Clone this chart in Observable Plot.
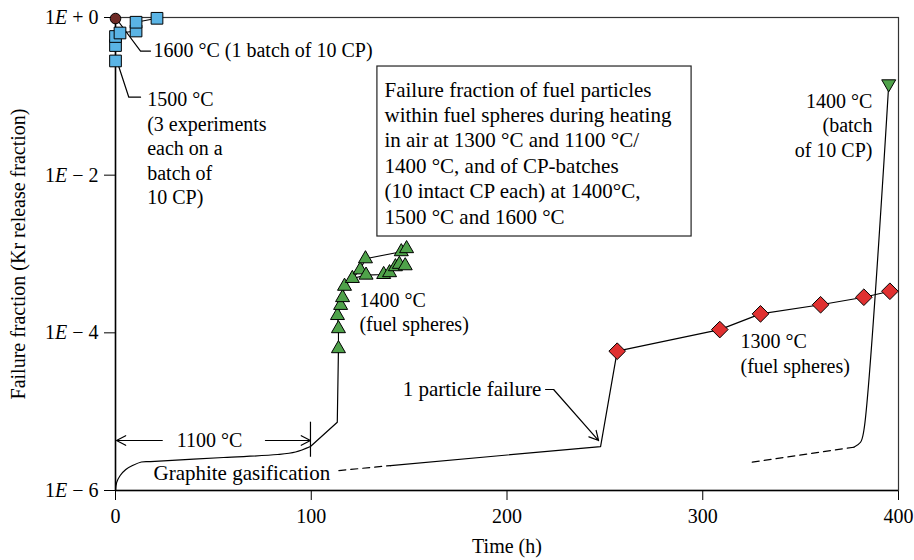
<!DOCTYPE html>
<html><head><meta charset="utf-8">
<script src="https://cdn.jsdelivr.net/npm/d3@7"></script>
<script src="https://cdn.jsdelivr.net/npm/@observablehq/plot@0.6"></script>
<style>body{margin:0;background:#fff}svg{display:block}</style>
</head><body><div id="chart"></div>
<script>
const FONT = "'Liberation Serif', 'Times New Roman', serif";
// ---- ticks
const xTicks = [0, 100, 200, 300, 400];
const yTicks = [1, 1e-2, 1e-4, 1e-6];

// ---- 1600 °C CP batch (circle)
const t1600 = [0];
const v1600 = [0.97];
// ---- 1500 °C CP batches (squares), 3 experiments
const t1500 = [0, 0, 0, 2.3, 10.5, 10.5, 21.2];
const v1500 = [0.281, 0.441, 0.574, 0.636, 0.674, 0.871, 0.977];
const e1500 = ["a", "a", "a", "b", "b", "c", "c"];
// ---- 1400 °C fuel spheres (triangles)
const t1400fs = [113.9, 113.9, 113.4, 115, 116, 117, 121, 125, 127.7, 146, 148.7, 128, 137, 140, 143, 145, 148];
const v1400fs = [6.3e-5, 1.13e-4, 1.66e-4, 2.23e-4, 2.8e-4, 3.9e-4, 4.9e-4, 6.3e-4, 8.7e-4, 1.07e-3, 1.17e-3, 5.4e-4, 5.5e-4, 5.8e-4, 6.9e-4, 7.4e-4, 7.1e-4];
const mainIdx1400 = [0,1,2,3,4,5,6,7,8,9,10];
const sideIdx1400 = [6,11,12,13,14,15,16];
// ---- 1300 °C fuel spheres (diamonds)
const t1300 = [256.3, 308.7, 329.5, 360.2, 382.3, 395.6];
const v1300 = [5.85e-5, 1.10e-4, 1.74e-4, 2.27e-4, 2.83e-4, 3.37e-4];
// ---- 1400 °C CP batch (down triangle)
const t1400cp = [395.0];
const v1400cp = [0.144];

// ---- curves
const t1100 = [0, 0.61, 2.4, 5.26, 8.94, 13.23, 17.88, 55.2, 82.8, 92.0, 99.6];
const v1100 = [1e-6, 1.27e-6, 1.55e-6, 1.85e-6, 2.09e-6, 2.30e-6, 2.33e-6, 2.62e-6, 2.86e-6, 3.08e-6, 3.61e-6];
const tHeat = [99.6, 113.3, 113.9];
const vHeat = [3.61e-6, 7.35e-6, 6.3e-5];
const tGasDash = [114.1, 140.5];
const vGasDash = [1.79e-6, 2.07e-6];
const tGas = [140.5, 247.8, 256.3];
const vGas = [2.07e-6, 3.61e-6, 5.85e-5];
const tCpDash = [325.3, 377.2];
const vCpDash = [2.29e-6, 3.54e-6];
const tCp = [377.2, 380.6, 382.3, 395.0];
const vCp = [3.54e-6, 4.09e-6, 5.77e-6, 0.141];

// ---- annotation leaders (data units)
const lead1600T = [1.5, 12.8, 17.9], lead1600V = [0.89, 0.375, 0.375];
const lead1500T = [1.0, 6.8, 12.8], lead1500V = [0.269, 0.0975, 0.0975];
const leadFailT = [219.7, 223.8], leadFailV = [1.91e-5, 1.91e-5];
const arrows = [
  {x1: 223.8, y1: 1.91e-5, x2: 246.8, y2: 4.3e-6},
  {x1: 23.9, y1: 4.31e-6, x2: 0.5, y2: 4.31e-6},
  {x1: 76.6, y1: 4.31e-6, x2: 99.6, y2: 4.31e-6}
];
const barT = [99.6], barV1 = [7.35e-6], barV2 = [2.64e-6];
const box = [{x1: 133.8, x2: 294.3, y1: 0.2389, y2: 0.001667}];

// ---- label texts
const labels = {
  l1600: "1600 °C (1 batch of 10 CP)",
  l1500: "1500 °C\n(3 experiments\neach on a\nbatch of\n10 CP)",
  l1400fs: "1400 °C\n(fuel spheres)",
  l1300: "1300 °C\n(fuel spheres)",
  l1400cp: "1400 °C\n(batch\nof 10 CP)",
  fail: "1 particle failure",
  l1100: "1100 °C",
  gas: "Graphite gasification",
  box: "Failure fraction of fuel particles\nwithin fuel spheres during heating\nin air at 1300 °C and 1100 °C/\n1400 °C, and of CP-batches\n(10 intact CP each) at 1400°C,\n1500 °C and 1600 °C",
  xTitle: "Time (h)",
  yTitle: "Failure fraction (Kr release fraction)"
};

const pts = (T, V) => T.map((t, i) => ({t, v: V[i]}));
const fmtY = v => { const e = Math.round(Math.log10(v)); return e === 0 ? "1E + 0" : "1E \u2212 " + (-e); };

const fs = pts(t1400fs, v1400fs);
const sq = t1500.map((t, i) => ({t, v: v1500[i], e: e1500[i]}));
const line = (T, V, o = {}) => Plot.line(pts(T, V), {x: "t", y: "v", stroke: "black", strokeWidth: 1.2, ...o});
const txt = (s, t, v, o = {}) => Plot.text([s], {x: () => t, y: () => v, text: d => d, fill: "black", ...o});

const chart = Plot.plot({
  width: 914, height: 560,
  marginLeft: 115, marginRight: 16, marginTop: 17, marginBottom: 70,
  style: {fontFamily: FONT, fontSize: "20px", background: "white", color: "black", overflow: "visible"},
  x: {domain: [0, 400], ticks: xTicks, tickFormat: d => String(d), tickSize: 10, tickPadding: 8, label: null},
  y: {type: "log", domain: [1e-6, 1], ticks: yTicks, tickFormat: fmtY, tickSize: 11, tickPadding: 6, label: null},
  marks: [
    Plot.frame({stroke: "#333", strokeWidth: 1.2}),
    Plot.ruleX([0], {stroke: "black", strokeWidth: 1.5}),
    Plot.ruleY([1e-6], {stroke: "black", strokeWidth: 1.5}),
    line(t1100, v1100, {curve: "catmull-rom"}),
    line(tHeat, vHeat),
    line(tGasDash, vGasDash, {strokeDasharray: "7,5"}),
    line(tGas, vGas),
    line(tCpDash, vCpDash, {strokeDasharray: "7,5"}),
    line(tCp, vCp, {curve: "catmull-rom"}),
    Plot.line(mainIdx1400.map(i => fs[i]), {x: "t", y: "v", stroke: "black", strokeWidth: 1.1}),
    Plot.line(sideIdx1400.map(i => fs[i]), {x: "t", y: "v", stroke: "black", strokeWidth: 1.1}),
    Plot.line(sq, {x: "t", y: "v", z: "e", stroke: "black", strokeWidth: 1.1}),
    line(t1300, v1300),
    line(lead1600T, lead1600V),
    line(lead1500T, lead1500V),
    line(leadFailT, leadFailV),
    Plot.arrow(arrows, {x1: "x1", y1: "y1", x2: "x2", y2: "y2", stroke: "black", strokeWidth: 1.2, headLength: 13, headAngle: 55}),
    Plot.ruleX(barT, {x: d => d, y1: () => barV1[0], y2: () => barV2[0], stroke: "black", strokeWidth: 1.2}),
    Plot.dot(fs, {x: "t", y: "v", symbol: "triangle", r: 5.2, fill: "#4fa24a", stroke: "black", strokeWidth: 1}),
    Plot.dot(sq, {x: "t", y: "v", symbol: "square", r: 6.6, fill: "#5ab4e5", stroke: "black", strokeWidth: 1}),
    Plot.dot(pts(t1600, v1600), {x: "t", y: "v", symbol: "circle", r: 5.3, fill: "#6e2b26", stroke: "black", strokeWidth: 1}),
    Plot.dot(pts(t1300, v1300), {x: "t", y: "v", symbol: "diamond2", r: 7.5, fill: "#e03131", stroke: "black", strokeWidth: 1}),
    Plot.dot(pts(t1400cp, v1400cp), {x: "t", y: "v", symbol: "triangle", rotate: 180, r: 5.2, fill: "#4fa24a", stroke: "black", strokeWidth: 1}),
    Plot.rect(box, {x1: "x1", x2: "x2", y1: "y1", y2: "y2", fill: "white", stroke: "#222", strokeWidth: 1.2}),
    txt(labels.box, 137.4, 0.01967, {textAnchor: "start", lineHeight: 1.21, fontSize: 21}),
    txt(labels.l1600, 19.4, 0.375, {textAnchor: "start"}),
    txt(labels.l1500, 16.2, 0.02244, {textAnchor: "start", lineHeight: 1.225}),
    txt(labels.l1400fs, 124.6, 1.86e-4, {textAnchor: "start", lineHeight: 1.2}),
    txt(labels.l1300, 319.3, 5.55e-5, {textAnchor: "start", lineHeight: 1.25}),
    txt(labels.l1400cp, 386.7, 0.0442, {textAnchor: "end", lineHeight: 1.225}),
    txt(labels.fail, 217.6, 1.91e-5, {textAnchor: "end", fontSize: 21}),
    Plot.text([labels.l1100], {x: () => 48.0, y: () => 4.31e-6, text: d => d, fill: "black", stroke: "white", strokeWidth: 8}),
    txt(labels.gas, 19.4, 1.64e-6, {textAnchor: "start", fontSize: 21}),
    Plot.text([labels.xTitle], {frameAnchor: "bottom", textAnchor: "middle", dy: 62, text: d => d, fill: "black"}),
    Plot.text([labels.yTitle], {frameAnchor: "left", textAnchor: "middle", dx: -97, rotate: -90, text: d => d, fill: "black"})
  ]
});
document.getElementById("chart").appendChild(chart);
// italic E in the y tick labels
d3.select(chart).selectAll('[aria-label="y-axis tick label"] text').each(function () {
  const s = this.textContent; const sel = d3.select(this); sel.text("");
  sel.append("tspan").text(s.slice(0, 1));
  sel.append("tspan").attr("font-style", "italic").text("E");
  sel.append("tspan").text(s.slice(2));
});
</script></body></html>
